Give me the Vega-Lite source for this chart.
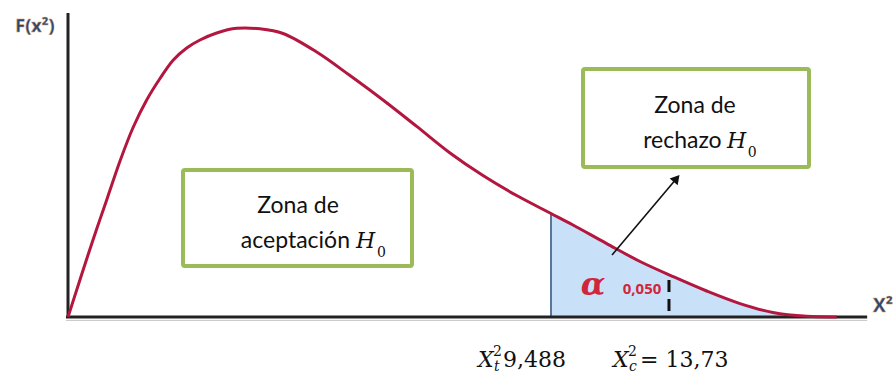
{
  "$schema": "https://vega.github.io/schema/vega-lite/v6.json",
  "width": 896,
  "height": 374,
  "padding": 0,
  "autosize": {"type": "fit", "contains": "padding"},
  "background": "white",
  "config": {"view": {"stroke": null}},
  "datasets": {
    "curve": [
      {"x": 0, "y": 0},
      {"x": 0.196, "y": 0.01938},
      {"x": 0.393, "y": 0.03875},
      {"x": 0.570, "y": 0.05563},
      {"x": 0.760, "y": 0.07313},
      {"x": 1.022, "y": 0.0975},
      {"x": 1.283, "y": 0.11875},
      {"x": 1.546, "y": 0.13563},
      {"x": 1.807, "y": 0.14906},
      {"x": 2.069, "y": 0.160625},
      {"x": 2.332, "y": 0.168125},
      {"x": 2.593, "y": 0.173125},
      {"x": 2.921, "y": 0.1775},
      {"x": 3.314, "y": 0.1804},
      {"x": 3.772, "y": 0.1801},
      {"x": 4.224, "y": 0.1772},
      {"x": 4.886, "y": 0.1656},
      {"x": 5.540, "y": 0.1509},
      {"x": 6.189, "y": 0.1356},
      {"x": 6.851, "y": 0.1191},
      {"x": 7.505, "y": 0.1025},
      {"x": 8.153, "y": 0.0884},
      {"x": 8.815, "y": 0.0759},
      {"x": 9.489, "y": 0.0647},
      {"x": 9.921, "y": 0.0575},
      {"x": 10.583, "y": 0.0459},
      {"x": 11.238, "y": 0.0347},
      {"x": 11.886, "y": 0.0253},
      {"x": 12.548, "y": 0.01625},
      {"x": 13.202, "y": 0.0084},
      {"x": 13.851, "y": 0.0028},
      {"x": 14.513, "y": 0.0004},
      {"x": 15.102, "y": 0}
    ],
    "boxes": [
      {"x": 2.259, "x2": 6.758, "y": 0.091875, "y2": 0.031875},
      {"x": 10.118, "x2": 14.558, "y": 0.155, "y2": 0.09375}
    ],
    "labels": [
      {"kind": "boxhead", "t": "Zona de", "x": 4.519, "y": 0.0652},
      {"kind": "boxhead", "t": "Zona de", "x": 12.318, "y": 0.1277},
      {"kind": "boxtail", "t": "aceptación", "x": 5.540, "y": 0.0429},
      {"kind": "boxtail", "t": "rechazo", "x": 12.842, "y": 0.1054},
      {"kind": "mathI", "t": "H", "x": 5.658, "y": 0.043125},
      {"kind": "mathI", "t": "H", "x": 12.947, "y": 0.1054},
      {"kind": "mathI", "t": "X", "x": 8.055, "y": -0.03125},
      {"kind": "mathI", "t": "X", "x": 10.707, "y": -0.03125},
      {"kind": "mathN", "t": "9,488", "x": 8.546, "y": -0.03125},
      {"kind": "mathN", "t": "= 13,73", "x": 11.238, "y": -0.03125},
      {"kind": "smallN", "t": "0", "x": 6.071, "y": 0.0375},
      {"kind": "smallN", "t": "0", "x": 13.353, "y": 0.1},
      {"kind": "smallN", "t": "2", "x": 8.350, "y": -0.024375},
      {"kind": "smallN", "t": "2", "x": 11.002, "y": -0.024375},
      {"kind": "smallI", "t": "t", "x": 8.369, "y": -0.03375},
      {"kind": "smallI", "t": "c", "x": 11.022, "y": -0.03375},
      {"kind": "alpha", "t": "α", "x": 10.314, "y": 0.0135},
      {"kind": "alphaval", "t": "0,050", "x": 11.277, "y": 0.014375},
      {"kind": "ylab", "t": "F(x²)", "x": -0.648, "y": 0.178125},
      {"kind": "xlab", "t": "X²", "x": 15.815, "y": 0.003125}
    ]
  },
  "encoding": {
    "x": {"field": "x", "type": "quantitative", "axis": null, "scale": {"domain": [-1.336, 16.267], "nice": false, "zero": false}},
    "y": {"field": "y", "type": "quantitative", "axis": null, "scale": {"domain": [-0.035625, 0.198125], "nice": false, "zero": false}}
  },
  "layer": [
    {
      "data": {"name": "curve"},
      "transform": [{"filter": "datum.x >= 9.48"}],
      "mark": {"type": "area", "color": "#c8e1f8", "interpolate": "catmull-rom"},
      "encoding": {"y2": {"datum": 0}}
    },
    {
      "data": {"values": [{"x": 9.489, "y": 0, "y2": 0.0647}]},
      "mark": {"type": "rule", "color": "#5a7796", "strokeWidth": 2},
      "encoding": {"y2": {"field": "y2"}}
    },
    {
      "data": {"values": [{"x": -0.04, "y": -0.0021, "x2": 15.70}]},
      "mark": {"type": "rule", "color": "#c4c4c4", "strokeWidth": 1},
      "encoding": {"x2": {"field": "x2"}}
    },
    {
      "data": {"values": [{"x": -0.04, "y": 0, "x2": 15.70}]},
      "mark": {"type": "rule", "color": "#222222", "strokeWidth": 3},
      "encoding": {"x2": {"field": "x2"}}
    },
    {
      "data": {"values": [{"x": 0, "y": 0, "y2": 0.19}]},
      "mark": {"type": "rule", "color": "#222222", "strokeWidth": 3},
      "encoding": {"y2": {"field": "y2"}}
    },
    {
      "data": {"name": "curve"},
      "mark": {"type": "line", "color": "#b3173f", "strokeWidth": 3, "interpolate": "catmull-rom"},
      "encoding": {}
    },
    {
      "data": {"values": [{"x": 11.807, "y": 0.0038, "y2": 0.0275}]},
      "mark": {"type": "rule", "color": "#111111", "strokeWidth": 3, "strokeDash": [12, 7]},
      "encoding": {"y2": {"field": "y2"}}
    },
    {
      "data": {"values": [{"x": 10.688, "y": 0.03875, "x2": 11.956, "y2": 0.08659}]},
      "mark": {"type": "rule", "color": "#111111", "strokeWidth": 1.6},
      "encoding": {"x2": {"field": "x2"}, "y2": {"field": "y2"}}
    },
    {
      "data": {"values": [{"x": 11.956, "y": 0.08659}]},
      "mark": {"type": "point", "shape": "triangle-up", "filled": true, "size": 110, "angle": 40, "color": "#111111", "opacity": 1},
      "encoding": {}
    },
    {
      "data": {"name": "boxes"},
      "mark": {"type": "rect", "fill": "white", "stroke": "#9bbb59", "strokeWidth": 4, "cornerRadius": 2},
      "encoding": {"x2": {"field": "x2"}, "y2": {"field": "y2"}}
    },
    {
      "data": {"name": "labels"},
      "transform": [{"filter": "datum.kind == 'boxhead'"}],
      "mark": {"type": "text", "font": "Lato", "fontSize": 23, "align": "center", "baseline": "alphabetic", "color": "#111111"},
      "encoding": {"text": {"field": "t"}}
    },
    {
      "data": {"name": "labels"},
      "transform": [{"filter": "datum.kind == 'boxtail'"}],
      "mark": {"type": "text", "font": "Lato", "fontSize": 23, "align": "right", "baseline": "alphabetic", "color": "#111111"},
      "encoding": {"text": {"field": "t"}}
    },
    {
      "data": {"name": "labels"},
      "transform": [{"filter": "datum.kind == 'mathI'"}],
      "mark": {"type": "text", "font": "DejaVu Serif", "fontSize": 22, "fontStyle": "italic", "align": "left", "baseline": "alphabetic", "color": "#111111"},
      "encoding": {"text": {"field": "t"}}
    },
    {
      "data": {"name": "labels"},
      "transform": [{"filter": "datum.kind == 'mathN'"}],
      "mark": {"type": "text", "font": "DejaVu Serif", "fontSize": 22, "align": "left", "baseline": "alphabetic", "color": "#111111"},
      "encoding": {"text": {"field": "t"}}
    },
    {
      "data": {"name": "labels"},
      "transform": [{"filter": "datum.kind == 'smallN'"}],
      "mark": {"type": "text", "font": "DejaVu Serif", "fontSize": 14, "align": "left", "baseline": "alphabetic", "color": "#111111"},
      "encoding": {"text": {"field": "t"}}
    },
    {
      "data": {"name": "labels"},
      "transform": [{"filter": "datum.kind == 'smallI'"}],
      "mark": {"type": "text", "font": "DejaVu Serif", "fontSize": 14, "fontStyle": "italic", "align": "left", "baseline": "alphabetic", "color": "#111111"},
      "encoding": {"text": {"field": "t"}}
    },
    {
      "data": {"name": "labels"},
      "transform": [{"filter": "datum.kind == 'alpha'"}],
      "mark": {"type": "text", "font": "DejaVu Serif", "fontSize": 32, "fontStyle": "italic", "fontWeight": "bold", "align": "center", "baseline": "alphabetic", "color": "#d0263d"},
      "encoding": {"text": {"field": "t"}}
    },
    {
      "data": {"name": "labels"},
      "transform": [{"filter": "datum.kind == 'alphaval'"}],
      "mark": {"type": "text", "font": "Open Sans", "fontSize": 15, "fontWeight": "bold", "align": "center", "baseline": "alphabetic", "color": "#d0263d"},
      "encoding": {"text": {"field": "t"}}
    },
    {
      "data": {"name": "labels"},
      "transform": [{"filter": "datum.kind == 'ylab'"}],
      "mark": {"type": "text", "font": "Open Sans", "fontSize": 18, "fontWeight": "bold", "align": "center", "baseline": "alphabetic", "color": "#24477a", "stroke": "#e39a45", "strokeWidth": 0.4},
      "encoding": {"text": {"field": "t"}}
    },
    {
      "data": {"name": "labels"},
      "transform": [{"filter": "datum.kind == 'xlab'"}],
      "mark": {"type": "text", "font": "Open Sans", "fontSize": 19, "fontWeight": "bold", "align": "left", "baseline": "alphabetic", "color": "#24477a", "stroke": "#e39a45", "strokeWidth": 0.4},
      "encoding": {"text": {"field": "t"}}
    }
  ]
}
